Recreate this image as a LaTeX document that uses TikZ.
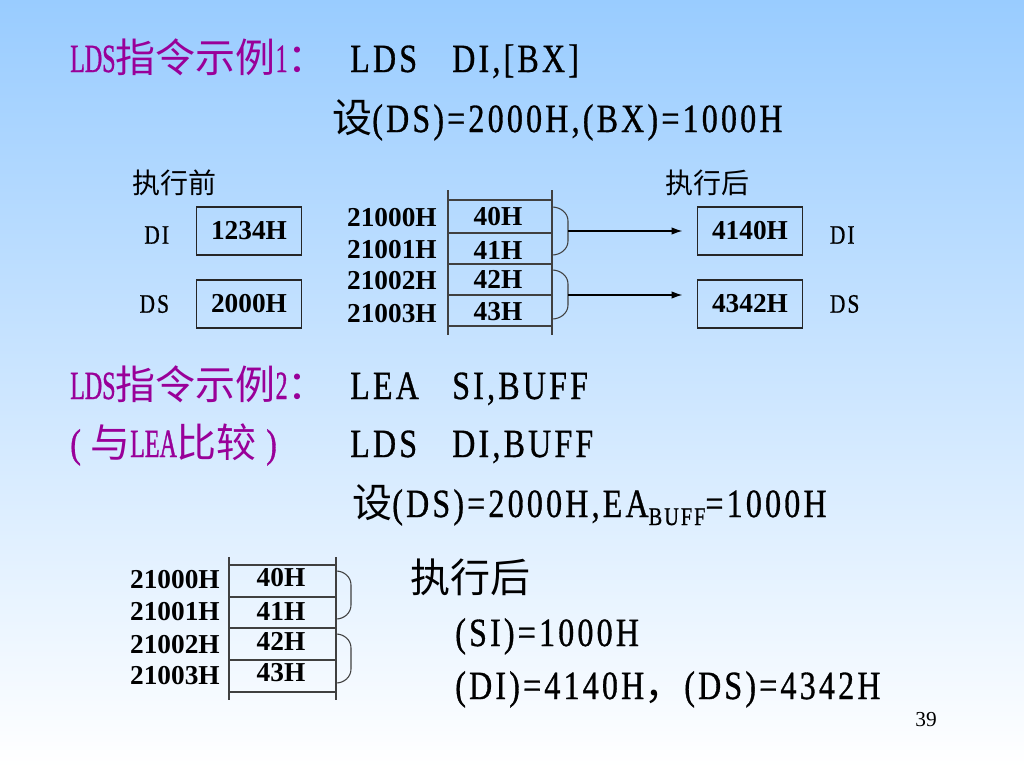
\documentclass[tikz,border=0pt]{standalone}
\usepackage{fontspec}
\setmainfont{Liberation Serif}
\newfontfamily\zhfont{Noto Sans CJK SC}
\newfontfamily\asmfont{Liberation Serif}[FakeStretch=0.8,LetterSpace=8,FakeBold=0.8]
\newfontfamily\tagfont{Liberation Serif}[FakeStretch=0.6,FakeBold=0.8]
\usetikzlibrary{positioning}
\usetikzlibrary{arrows.meta}
\usetikzlibrary{calc}
\definecolor{slidetop}{RGB}{153,204,255}
\definecolor{ldspurple}{RGB}{153,0,153}
\newcommand{\ZH}[1]{{\zhfont #1}}
\newcommand{\TAG}[1]{{\tagfont #1}}
\tikzset{
    bigtext/.style = {font=\fontsize{30}{36}\selectfont\asmfont, anchor=base west, inner sep=0pt},
    headline/.style = {bigtext, text=ldspurple},
    caption/.style = {font=\fontsize{21}{24}\selectfont\zhfont, inner sep=0pt},
    regname/.style = {font=\fontsize{20}{24}\selectfont\asmfont, inner sep=0pt},
    register/.style = {rectangle, draw=black!85, line width=0.8pt, minimum width=78.75pt, minimum height=36pt, inner sep=0pt, font=\fontsize{20.5}{24}\selectfont\bfseries},
    cell/.style = {inner sep=0pt, font=\fontsize{20.5}{24}\selectfont\bfseries},
    address/.style = {cell, anchor=east},
    memline/.style = {draw=black!75, line width=0.8pt},
    pointer/.style = {-{Latex[length=8pt,width=5.5pt]}, line width=0.8pt, shorten >=11pt}}

\begin{document}
\begin{tikzpicture}[x=0.75pt,y=-0.75pt]
    \shade[top color=slidetop, bottom color=white] (0,0) rectangle (1024,768);
    \useasboundingbox (0,0) rectangle (1024,768);
    % example 1
    \node[headline] (ex1) at (70,72) {\TAG{LDS}\ZH{指令示例}\TAG{1}\ZH{：}};
    \node[bigtext] (op1) at (350,72) {LDS};
    \node[bigtext] (arg1) at (452,72) {DI,[BX]};
    \node[bigtext] (set1) at (332,132) {\ZH{设}(DS)=2000H,(BX)=1000H};
    \node[caption] (before) at (174,183) {执行前};
    \node[caption] (after) at (707,183) {执行后};
    \node[register] (di0) at (249,231) {1234H};
    \node[register] (ds0) at (249,304) {2000H};
    \node[regname, left=20pt of di0, yshift=-3pt] (diname0) {DI};
    \node[regname, left=20pt of ds0] (dsname0) {DS};
    % memory
    \draw[memline] (448,190) -- (448,335) (552,190) -- (552,335);
    \draw[memline] (448,200) -- (552,200) (448,233) -- (552,233) (448,264) -- (552,264)
        (448,295) -- (552,295) (448,326) -- (552,326);
    \path (498,217) node[cell] (a0) {40H}
        ++ (0,33) node[cell] (a1) {41H}
        ++ (0,29) node[cell] (a2) {42H}
        ++ (0,33) node[cell] (a3) {43H};
    \path (437,218) node[address] (m0) {21000H}
        ++ (0,32) node[address] (m1) {21001H}
        ++ (0,31) node[address] (m2) {21002H}
        ++ (0,33) node[address] (m3) {21003H};
    \draw[memline] (552,207) to [out=0,in=90] (568,221) -- (568,241) to [out=-90,in=0] (552,255);
    \draw[memline] (552,270) to [out=0,in=90] (568,284) -- (568,305) to [out=-90,in=0] (552,319);
    \coordinate (lo) at (568,231);
    \coordinate (hi) at (568,295);
    \node[register] (di1) at (750,231) {4140H};
    \node[register] (ds1) at (750,304) {4342H};
    \node[regname, right=20pt of di1, yshift=-3pt] (diname1) {DI};
    \node[regname, right=20pt of ds1] (dsname1) {DS};
    \draw[pointer] (lo) -- (lo -| di1.west);
    \draw[pointer] (hi) -- (hi -| ds1.west);
    % example 2
    \node[headline] (ex2) at (70,399) {\TAG{LDS}\ZH{指令示例}\TAG{2}\ZH{：}};
    \node[bigtext] (op2) at (350,399) {LEA};
    \node[bigtext] (arg2) at (452,399) {SI,BUFF};
    \node[headline] (cmp) at (70,457) {\makebox[15pt][l]{(}\ZH{与}\TAG{LEA}\ZH{比较}\makebox[22pt]{)}};
    \node[bigtext] (op3) at (350,457) {LDS};
    \node[bigtext] (arg3) at (452,457) {DI,BUFF};
    \node[bigtext] (set2) at (352,517) {\ZH{设}(DS)=2000H,EA\raisebox{-0.2em}{\fontsize{19}{20}\selectfont BUFF}=1000H};
    \draw[memline] (229,557) -- (229,700) (336,557) -- (336,700);
    \draw[memline] (229,565) -- (336,565) (229,597) -- (336,597) (229,628) -- (336,628)
        (229,660) -- (336,660) (229,692) -- (336,692);
    \path (281,578) node[cell] (b0) {40H}
        ++ (0,33) node[cell] (b1) {41H}
        ++ (0,30) node[cell] (b2) {42H}
        ++ (0,32) node[cell] (b3) {43H};
    \path (220,580) node[address] (n0) {21000H}
        ++ (0,32) node[address] (n1) {21001H}
        ++ (0,33) node[address] (n2) {21002H}
        ++ (0,31) node[address] (n3) {21003H};
    \draw[memline] (336,571) to [out=0,in=90] (351,585) -- (351,605) to [out=-90,in=0] (336,619);
    \draw[memline] (336,634) to [out=0,in=90] (351,648) -- (351,669) to [out=-90,in=0] (336,683);
    \node[bigtext, font=\fontsize{30}{36}\selectfont\zhfont, anchor=west] (after2) at (410,577) {执行后};
    \node[bigtext] (si) at (455,646) {(SI)=1000H};
    \node[bigtext] (didsv) at (455,699) {(DI)=4140H\ZH{，}(DS)=4342H};
    \node[font=\fontsize{16}{18}\selectfont] (page) at (926,720) {39};
\end{tikzpicture}
\end{document}
